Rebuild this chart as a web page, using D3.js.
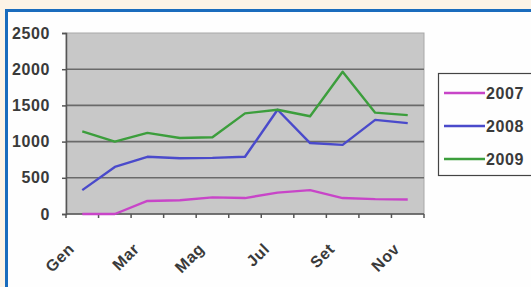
<!DOCTYPE html>
<html>
<head>
<meta charset="utf-8">
<script src="https://cdn.jsdelivr.net/npm/d3@7"></script>
<style>
  body { margin: 0; background: #fcf3e6; }
  svg { display: block; }
</style>
</head>
<body>
<script>
const months = ["Gen", "Feb", "Mar", "Apr", "Mag", "Giu", "Jul", "Ago", "Set", "Ott", "Nov"];
const labelled = ["Gen", "Mar", "Mag", "Jul", "Set", "Nov"];
const years = ["2007", "2008", "2009"];
const v2007 = [0, 0, 180, 190, 230, 220, 295, 330, 220, 205, 200];
const v2008 = [330, 650, 790, 770, 775, 790, 1440, 980, 955, 1300, 1255];
const v2009 = [1140, 1000, 1120, 1050, 1060, 1390, 1440, 1350, 1965, 1400, 1365];
const yTicks = [0, 500, 1000, 1500, 2000, 2500];
const colors = ["#c845c8", "#4a4acb", "#3c9e3c"];

const W = 531, H = 287;
const font = "Arial, Liberation Sans, sans-serif";
const svg = d3.select("body").append("svg").attr("width", W).attr("height", H);

// frame: cream outside, blue rule, white card
svg.append("rect").attr("x", 0).attr("y", 0).attr("width", W).attr("height", H).attr("fill", "#fcf3e6");
svg.append("rect").attr("x", 6.5).attr("y", 10.5).attr("width", W + 10).attr("height", H + 10)
    .attr("fill", "#fefefe").attr("stroke", "#1a6cbd").attr("stroke-width", 3);

const plot = { left: 66, right: 424, top: 33, bottom: 214 };

const x = d3.scaleBand().domain(months).range([plot.left, plot.right]).paddingInner(0).paddingOuter(0);
const y = d3.scaleLinear().domain([0, 2500]).range([plot.bottom, plot.top]);

// plot area
svg.append("rect")
    .attr("x", plot.left).attr("y", plot.top)
    .attr("width", plot.right - plot.left).attr("height", plot.bottom - plot.top)
    .attr("fill", "#c8c8c8").attr("stroke", "#a8a8a8").attr("stroke-width", 1);

// gridlines
svg.append("g").selectAll("line").data(yTicks.filter(d => d > 0 && d < 2500)).join("line")
    .attr("x1", plot.left).attr("x2", plot.right)
    .attr("y1", d => y(d)).attr("y2", d => y(d))
    .attr("stroke", "#6a6a6a").attr("stroke-width", 1.6);

// y axis
const yAxis = svg.append("g").attr("transform", `translate(${plot.left},0)`)
    .call(d3.axisLeft(y).tickValues(yTicks).tickFormat(d3.format("d")).tickSize(4).tickPadding(12));
yAxis.select(".domain").attr("stroke", "#555").attr("stroke-width", 1.5);
yAxis.selectAll(".tick line").attr("stroke", "#555").attr("stroke-width", 1.5);
yAxis.selectAll("text").attr("font-family", font)
    .attr("font-size", 16).attr("letter-spacing", 0.6).attr("fill", "#3a3a3a").attr("font-weight", "bold");

// x axis with ticks between categories
const xAxis = svg.append("g").attr("transform", `translate(0,${plot.bottom})`);
xAxis.append("line").attr("x1", plot.left).attr("x2", plot.right)
    .attr("stroke", "#555").attr("stroke-width", 1.5);
const edges = months.map(m => x(m)).concat([x(months[months.length - 1]) + x.bandwidth()]);
xAxis.selectAll("line.tk").data(edges).join("line").attr("class", "tk")
    .attr("x1", d => d).attr("x2", d => d).attr("y1", 0).attr("y2", 4)
    .attr("stroke", "#555").attr("stroke-width", 1.5);
xAxis.selectAll("text").data(labelled).join("text")
    .attr("transform", d => `translate(${x(d) + x.bandwidth() / 2 - 7},${36}) rotate(-45)`)
    .attr("text-anchor", "end")
    .attr("font-family", font)
    .attr("font-size", 16).attr("letter-spacing", 0.6).attr("font-weight", "bold").attr("fill", "#3a3a3a")
    .text(d => d);

// lines
const line = d3.line()
    .x((d, i) => x(months[i]) + x.bandwidth() / 2)
    .y(d => y(d));
[v2007, v2008, v2009].forEach((vals, k) => {
    svg.append("path").datum(vals)
        .attr("d", line)
        .attr("fill", "none")
        .attr("stroke", colors[k])
        .attr("stroke-width", 2.4)
        .attr("stroke-linejoin", "round");
});

// legend
const lg = svg.append("g");
lg.append("rect").attr("x", 438.5).attr("y", 73.5).attr("width", 110).attr("height", 102)
    .attr("fill", "#fefefe").attr("stroke", "#444").attr("stroke-width", 1.2);
years.forEach((yr, k) => {
    const cy = 93 + k * 33;
    lg.append("line").attr("x1", 444).attr("x2", 485).attr("y1", cy).attr("y2", cy)
        .attr("stroke", colors[k]).attr("stroke-width", 2.4);
    lg.append("text").attr("x", 486).attr("y", cy + 6)
        .attr("font-family", font)
        .attr("font-size", 16).attr("letter-spacing", 0.6).attr("font-weight", "bold").attr("fill", "#3a3a3a")
        .text(yr);
});
</script>
</body>
</html>
